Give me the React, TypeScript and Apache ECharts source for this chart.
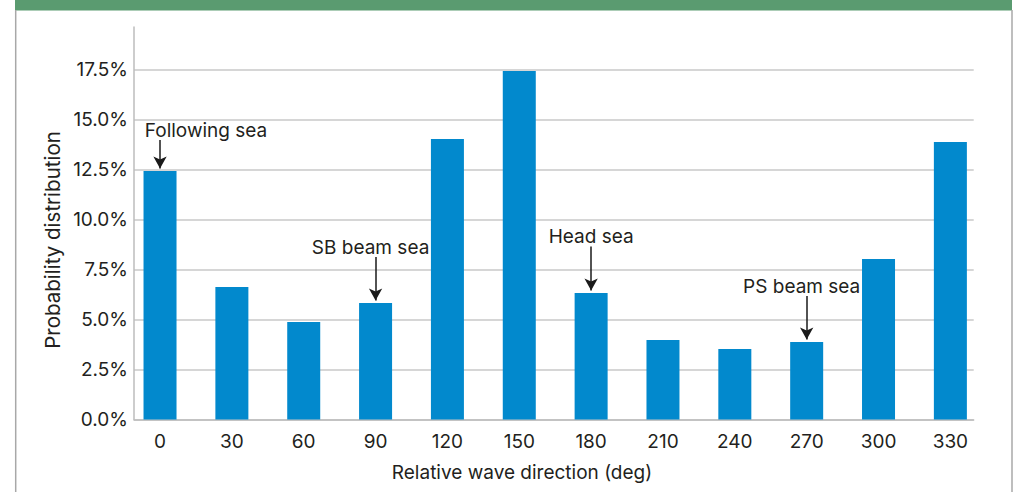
import React, { useEffect, useRef } from "react";
import * as echarts from "echarts";

const categories = ["0", "30", "60", "90", "120", "150", "180", "210", "240", "270", "300", "330"];
const probability = [12.43, 6.63, 4.88, 5.83, 14.02, 17.43, 6.33, 3.98, 3.53, 3.88, 8.03, 13.88];
const yInterval = 2.5;
const yMax = 19.625;
const annotations = [
  { cat: "0", text: "Following sea", len: 1.42, dx: 46 },
  { cat: "90", text: "SB beam sea", len: 2.17, dx: -5 },
  { cat: "180", text: "Head sea", len: 2.2, dx: 0 },
  { cat: "270", text: "PS beam sea", len: 2.17, dx: -5 },
];
const tipGap = 0.12;

const FONT = "Inter";
const TEXT = "#231f20";
const FS = 19;

export default function App() {
  const ref = useRef<HTMLDivElement>(null);
  useEffect(() => {
    const chart = echarts.init(ref.current!, null, { renderer: "svg" });
    const valueOf = (cat: string) => probability[categories.indexOf(cat)];
    const option: any = {
      animation: false,
      backgroundColor: "#ffffff",
      textStyle: { fontFamily: FONT },
      grid: [
        { left: 134, right: 44.3, top: 27, bottom: 72.5, containLabel: false },
        { left: 124.1, right: 31.7, top: 27, bottom: 72.5, containLabel: false },
      ],
      xAxis: [
        {
          gridIndex: 0,
          type: "category",
          data: categories,
          axisLine: { show: true, lineStyle: { color: "#bdbdbd", width: 1.5 } },
          axisTick: { show: false },
          axisLabel: { show: false },
          splitLine: { show: false },
        },
        {
          gridIndex: 1,
          type: "category",
          data: categories,
          axisLine: { show: false },
          axisTick: { show: false },
          axisLabel: { show: true, color: TEXT, fontSize: FS, fontFamily: FONT, margin: 12 },
          splitLine: { show: false },
        },
      ],
      yAxis: [
        {
          gridIndex: 0,
          type: "value",
          min: 0,
          max: yMax,
          interval: yInterval,
          axisLine: { show: true, lineStyle: { color: "#bdbdbd", width: 1.5 } },
          axisTick: { show: false },
          axisLabel: {
            color: TEXT,
            fontSize: FS,
            fontFamily: FONT,
            margin: 6,
            showMaxLabel: false,
            formatter: (v: number) =>
              Math.abs(v / yInterval - Math.round(v / yInterval)) < 1e-6 ? v.toFixed(1) + "%" : "",
          },
          splitLine: { show: true, showMaxLine: false, lineStyle: { color: "#c8c8c8", width: 1.5 } },
        },
        {
          gridIndex: 1,
          type: "value",
          min: 0,
          max: yMax,
          interval: yInterval,
          show: false,
          splitLine: { show: false },
        },
      ],
      series: [
        {
          type: "bar",
          xAxisIndex: 1,
          yAxisIndex: 1,
          data: probability,
          barWidth: 33,
          itemStyle: { color: "#0289cd" },
          markLine: {
            silent: true,
            symbol: ["none", "arrow"],
            symbolSize: [10, 12],
            lineStyle: { color: "#1a1a1a", width: 1.5, type: "solid" },
            label: { show: false },
            emphasis: { disabled: true },
            data: annotations.map((a) => {
              const tip = valueOf(a.cat) + tipGap;
              return [{ coord: [a.cat, tip + a.len] }, { coord: [a.cat, tip] }];
            }),
          },
          markPoint: {
            silent: true,
            symbol: "rect",
            symbolSize: 1,
            itemStyle: { color: "rgba(0,0,0,0)" },
            data: annotations.map((a) => ({
              coord: [a.cat, valueOf(a.cat) + tipGap + a.len],
              label: {
                show: true,
                position: "top",
                distance: 0,
                offset: [a.dx, 0],
                formatter: a.text,
                color: TEXT,
                fontSize: FS,
                fontFamily: FONT,
              },
            })),
          },
        },
      ],
      graphic: [
        { type: "rect", shape: { x: 15, y: 0, width: 997, height: 10.5 }, style: { fill: "#5a9b70" }, silent: true },
        { type: "line", shape: { x1: 15.7, y1: 10, x2: 15.7, y2: 492 }, style: { stroke: "#a8a8a8", lineWidth: 1.5 }, silent: true },
        { type: "line", shape: { x1: 1012, y1: 10, x2: 1012, y2: 492 }, style: { stroke: "#a8a8a8", lineWidth: 1.5 }, silent: true },
        {
          type: "text",
          x: 52,
          y: 240,
          rotation: Math.PI / 2,
          style: { text: "Probability distribution", fill: TEXT, font: `20.5px ${FONT}`, align: "center", verticalAlign: "middle" },
          silent: true,
        },
        {
          type: "text",
          x: 522,
          y: 472,
          style: { text: "Relative wave direction (deg)", fill: TEXT, font: `${FS}px ${FONT}`, align: "center", verticalAlign: "middle" },
          silent: true,
        },
      ],
    };
    chart.setOption(option);
    return () => chart.dispose();
  }, []);
  return <div ref={ref} style={{ position: "absolute", left: 0, top: 0, width: 1018, height: 492 }} />;
}
